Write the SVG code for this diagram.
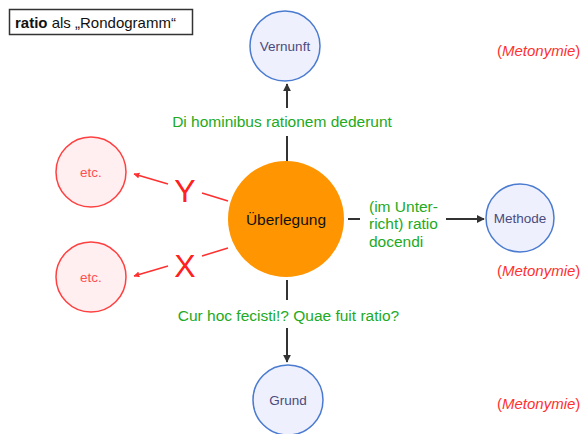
<svg xmlns="http://www.w3.org/2000/svg" width="586" height="434" viewBox="0 0 586 434">
<style>
text{font-family:"Liberation Sans",Arial,sans-serif}
.blue circle{fill:#eef0fd;stroke:#4a7bd0;stroke-width:1.5}
.blue text{fill:#4b4a7e;font-size:13.5px;text-anchor:middle}
.red circle{fill:#ffeff0;stroke:#ff4040;stroke-width:1.5}
.red text{fill:#ff5050;font-size:13.5px;text-anchor:middle}
.lbl{fill:#22aa22;font-size:15.5px}
.met{fill:#ff3030;font-size:15px}
.dark{stroke:#333;stroke-width:2;fill:none}
.rl{stroke:#ff3030;stroke-width:1.5;fill:none}
.xy{fill:#ff2020;font-size:32px;text-anchor:middle}
</style>
<defs>
<marker id="ah" viewBox="0 0 10 10" refX="9" refY="5" markerWidth="4" markerHeight="4" orient="auto"><path d="M0,0 L10,5 L0,10 z" fill="#333"/></marker>
<marker id="ahr" viewBox="0 0 10 10" refX="9" refY="5" markerWidth="4" markerHeight="4" orient="auto"><path d="M0,0 L10,5 L0,10 z" fill="#ff3030"/></marker>
</defs>
<rect width="586" height="434" fill="#fff"/>
<g id="title">
<rect x="9.5" y="9.5" width="183" height="25" fill="#fff" stroke="#333" stroke-width="1.5"/>
<text x="15" y="28" font-size="15" fill="#111"><tspan font-weight="bold">ratio</tspan> als „Rondogramm“</text>
</g>
<g id="connectors">
<path class="dark" d="M287,163 V136"/>
<path class="dark" d="M287,108 V84" marker-end="url(#ah)"/>
<path class="dark" d="M348,219 H360"/>
<path class="dark" d="M446,219 H484" marker-end="url(#ah)"/>
<path class="dark" d="M287,280 V300"/>
<path class="dark" d="M287,328 V362" marker-end="url(#ah)"/>
<path class="rl" d="M228,201 L202,193"/>
<path class="rl" d="M168,184 L134,174" marker-end="url(#ahr)"/>
<path class="rl" d="M228,248 L202,256"/>
<path class="rl" d="M168,266 L134,276" marker-end="url(#ahr)"/>
<text class="lbl" x="282" y="127" text-anchor="middle">Di hominibus rationem dederunt</text>
<text class="lbl" x="369" y="212">(im Unter-</text>
<text class="lbl" x="369" y="229">richt) ratio</text>
<text class="lbl" x="369" y="247">docendi</text>
<text class="lbl" x="288.5" y="321" text-anchor="middle">Cur hoc fecisti!? Quae fuit ratio?</text>
<text class="xy" x="185" y="202">Y</text>
<text class="xy" x="185" y="277">X</text>
</g>
<g id="ueberlegung">
<circle cx="286" cy="219" r="58" fill="#ff9500"/>
<text x="286" y="225" font-size="15.5" fill="#111" text-anchor="middle">Überlegung</text>
</g>
<g id="vernunft" class="blue">
<circle cx="285" cy="46" r="35"/>
<text x="285" y="51">Vernunft</text>
</g>
<g id="methode" class="blue">
<circle cx="520" cy="218" r="34"/>
<text x="520" y="223">Methode</text>
</g>
<g id="grund" class="blue">
<circle cx="288" cy="400" r="35"/>
<text x="288" y="405">Grund</text>
</g>
<g id="etc1" class="red">
<circle cx="91" cy="172" r="35"/>
<text x="91" y="177">etc.</text>
</g>
<g id="etc2" class="red">
<circle cx="91" cy="277" r="35"/>
<text x="91" y="282">etc.</text>
</g>
<g id="met1"><text class="met" x="497" y="56">(<tspan font-style="italic">Metonymie</tspan>)</text></g>
<g id="met2"><text class="met" x="497" y="276">(<tspan font-style="italic">Metonymie</tspan>)</text></g>
<g id="met3"><text class="met" x="497" y="409">(<tspan font-style="italic">Metonymie</tspan>)</text></g>
</svg>
